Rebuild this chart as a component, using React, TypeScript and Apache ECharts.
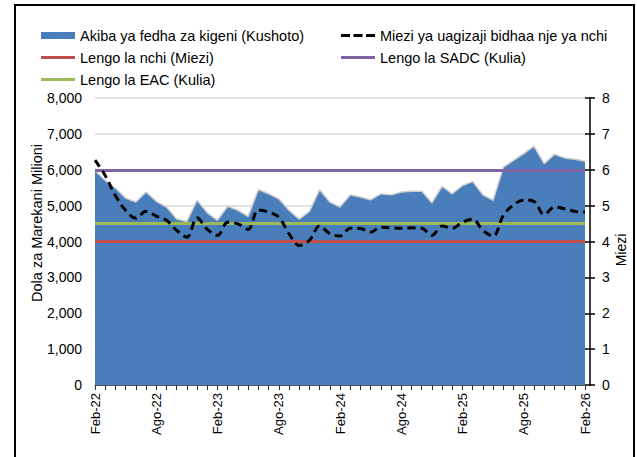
import React, { useEffect, useRef } from "react";
import * as echarts from "echarts";

const months = [
  "Feb-22", "Mac-22", "Apr-22", "Mei-22", "Jun-22", "Jul-22", "Ago-22", "Sep-22", "Okt-22", "Nov-22", "Des-22", "Jan-23",
  "Feb-23", "Mac-23", "Apr-23", "Mei-23", "Jun-23", "Jul-23", "Ago-23", "Sep-23", "Okt-23", "Nov-23", "Des-23", "Jan-24",
  "Feb-24", "Mac-24", "Apr-24", "Mei-24", "Jun-24", "Jul-24", "Ago-24", "Sep-24", "Okt-24", "Nov-24", "Des-24", "Jan-25",
  "Feb-25", "Mac-25", "Apr-25", "Mei-25", "Jun-25", "Jul-25", "Ago-25", "Sep-25", "Okt-25", "Nov-25", "Des-25", "Jan-26",
  "Feb-26",
];

// Akiba ya fedha za kigeni (USD milioni) - left axis
const reserves = [
  5980, 5700, 5490, 5210, 5100, 5380, 5120, 4960, 4630, 4560, 5150, 4800,
  4590, 4980, 4870, 4700, 5450, 5330, 5190, 4870, 4620, 4840, 5440, 5100,
  4960, 5300, 5240, 5160, 5330, 5300, 5380, 5400, 5410, 5080, 5540, 5330,
  5560, 5670, 5300, 5150, 6070, 6260, 6450, 6660, 6170, 6430, 6330, 6290,
  6240,
];

// Miezi ya uagizaji bidhaa nje ya nchi - right axis
const importMonths = [
  6.27, 5.84, 5.28, 4.87, 4.65, 4.84, 4.71, 4.59, 4.31, 4.12, 4.66, 4.34,
  4.17, 4.54, 4.49, 4.34, 4.88, 4.82, 4.68, 4.22, 3.89, 4.03, 4.43, 4.22,
  4.15, 4.37, 4.36, 4.26, 4.4, 4.38, 4.37, 4.38, 4.37, 4.17, 4.43, 4.37,
  4.54, 4.62, 4.31, 4.15, 4.73, 5.02, 5.16, 5.12, 4.75, 4.96, 4.91, 4.84,
  4.82,
];

const nationalTarget = 4;
const sadcTarget = 6;
const eacTarget = 4.5;

const seriesNames = [
  "Akiba ya fedha za kigeni (Kushoto)",
  "Miezi ya uagizaji bidhaa nje ya nchi",
  "Lengo la nchi (Miezi)",
  "Lengo la SADC (Kulia)",
  "Lengo la EAC (Kulia)",
];

const FONT = "Liberation Sans, Arial, sans-serif";

export default function App() {
  const ref = useRef<HTMLDivElement>(null);
  useEffect(() => {
    if (!ref.current) return;
    const chart = echarts.init(ref.current, undefined, { renderer: "svg" });
    const legendPos = [
      { left: 41, top: 28 },
      { left: 341, top: 28 },
      { left: 41, top: 50 },
      { left: 341, top: 50 },
      { left: 41, top: 72 },
    ];
    const icons = [
      "rect",
      "path://M0,0h9v3h-9z M12.5,0h9v3h-9z M25,0h9v3h-9z",
      "rect",
      "rect",
      "rect",
    ];
    const heights = [7, 4, 3, 3, 3];
    const legends = seriesNames.map((n, i) => ({
      data: [n],
      left: legendPos[i].left,
      top: legendPos[i].top,
      padding: 0,
      itemWidth: 34,
      itemHeight: heights[i],
      icon: icons[i],
      textStyle: { fontFamily: FONT, fontSize: 14.5, color: "#000" },
      selectedMode: false,
    }));
    const refLine = (name: string, value: number, color: string) => ({
      name,
      type: "line",
      yAxisIndex: 1,
      data: [],
      symbol: "none",
      itemStyle: { color },
      lineStyle: { color, width: 3 },
      markLine: {
        silent: true,
        symbol: "none",
        label: { show: false },
        lineStyle: { color, width: 3, type: "solid" },
        data: [{ yAxis: value }],
      },
    });
    chart.setOption({
      animation: false,
      backgroundColor: "#fff",
      textStyle: { fontFamily: FONT },
      legend: legends,
      grid: { left: 95, right: 52, top: 98, bottom: 72 },
      xAxis: {
        type: "category",
        data: months,
        boundaryGap: false,
        axisLine: { lineStyle: { color: "#555", width: 1 } },
        axisTick: { show: true, interval: 0, length: 5, lineStyle: { color: "#333" } },
        axisLabel: {
          interval: 5,
          rotate: 90,
          fontSize: 13,
          color: "#000",
          fontFamily: FONT,
          margin: 8,
        },
        splitLine: { show: false },
      },
      yAxis: [
        {
          type: "value",
          min: 0,
          max: 8000,
          interval: 1000,
          axisLine: { show: false },
          axisTick: { show: false },
          axisLabel: {
            fontSize: 14,
            color: "#000",
            fontFamily: FONT,
            margin: 13,
            formatter: (v: number) => v.toLocaleString("en-US"),
          },
          splitLine: { show: true, lineStyle: { color: "#d9d9d9", width: 1.5 } },
        },
        {
          type: "value",
          position: "right",
          offset: 5,
          min: 0,
          max: 8,
          interval: 1,
          axisLine: { show: true, lineStyle: { color: "#000", width: 1.5 } },
          axisTick: { show: true, inside: false, length: 5, lineStyle: { color: "#000", width: 1.5 } },
          axisLabel: { fontSize: 14, color: "#000", fontFamily: FONT, margin: 12 },
          splitLine: { show: false },
        },
        {
          type: "value",
          position: "right",
          offset: 5,
          min: 0,
          max: 8,
          interval: 1,
          axisLine: { show: false },
          axisTick: { show: true, inside: true, length: 5, lineStyle: { color: "#000", width: 1.5 } },
          axisLabel: { show: false },
          splitLine: { show: false },
        },
      ],
      series: [
        {
          name: seriesNames[0],
          type: "line",
          yAxisIndex: 0,
          data: reserves,
          symbol: "none",
          itemStyle: { color: "#4A7EBB" },
          lineStyle: { color: "#cfcfcf", width: 1.5 },
          areaStyle: { color: "#4A7EBB", opacity: 1 },
          z: 1,
        },
        refLine(seriesNames[2], nationalTarget, "#C0504D"),
        refLine(seriesNames[3], sadcTarget, "#8064A2"),
        refLine(seriesNames[4], eacTarget, "#9BBB59"),
        {
          name: seriesNames[1],
          type: "line",
          yAxisIndex: 1,
          data: importMonths,
          symbol: "none",
          smooth: 0.35,
          itemStyle: { color: "#000" },
          lineStyle: { color: "#000", width: 3, type: [8, 5] },
          z: 5,
        },
      ],
      graphic: [
        {
          type: "rect",
          shape: { x: 15, y: 5, width: 619, height: 480 },
          style: { fill: "none", stroke: "#000", lineWidth: 2 },
          silent: true,
          z: 100,
        },
        {
          type: "text",
          x: 37,
          y: 223,
          rotation: Math.PI / 2,
          style: {
            text: "Dola za Marekani Milioni",
            fontSize: 14.5,
            fontFamily: FONT,
            fill: "#000",
            textAlign: "center",
            textVerticalAlign: "middle",
          },
        },
        {
          type: "text",
          x: 621,
          y: 250,
          rotation: Math.PI / 2,
          style: {
            text: "Miezi",
            fontSize: 14,
            fontFamily: FONT,
            fill: "#000",
            textAlign: "center",
            textVerticalAlign: "middle",
          },
        },
      ],
    });
    return () => chart.dispose();
  }, []);
  return <div ref={ref} style={{ width: 637, height: 457, position: "absolute", left: 0, top: 0 }} />;
}
